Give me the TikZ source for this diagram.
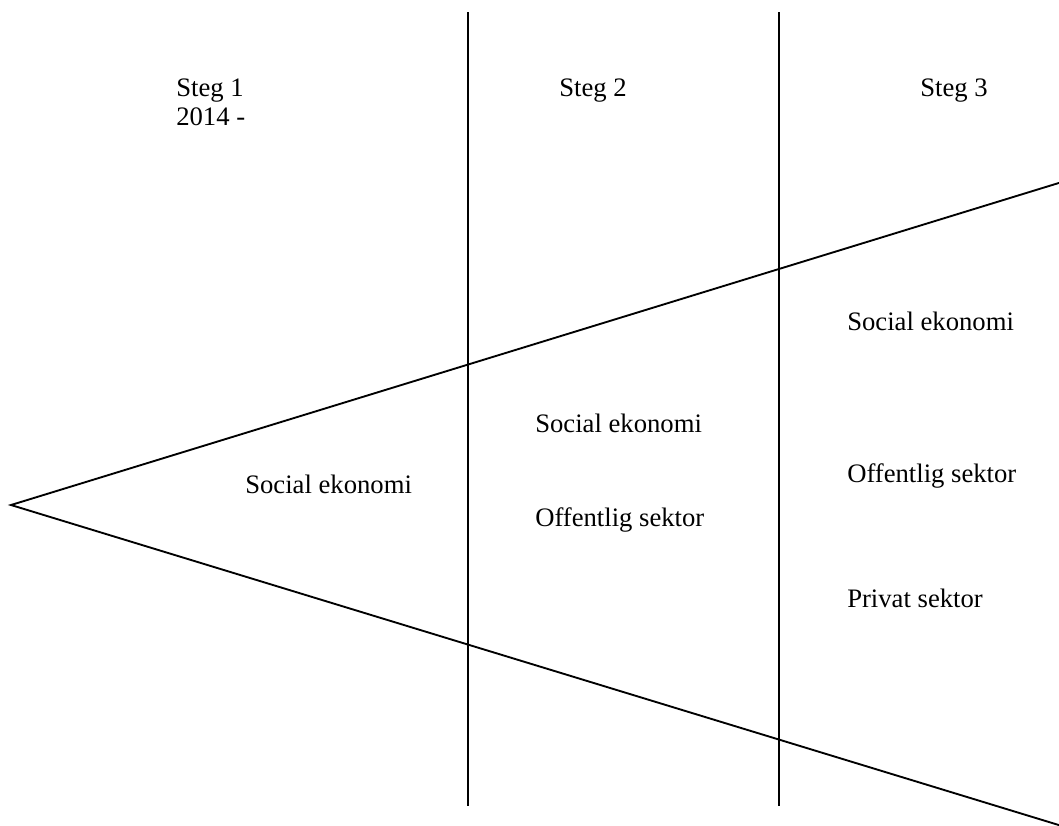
\documentclass[tikz,border=0pt]{standalone}
\usepackage{fontspec}
\setmainfont{Liberation Serif}
\begin{document}
\begin{tikzpicture}[x=0.75pt,y=-0.75pt,
  lbl/.style={anchor=base west,inner sep=0pt,font=\fontsize{20}{29}\selectfont},
  ln/.style={line width=1.4pt,black}]
\useasboundingbox (0,0) rectangle (1059,825);
% vertical dividers
\coordinate (v1t) at (468,12);
\coordinate (v1b) at (468,806);
\coordinate (v2t) at (779,12);
\coordinate (v2b) at (779,806);
\draw[ln] (v1t) -- (v1b);
\draw[ln] (v2t) -- (v2b);
% wedge
\coordinate (apex) at (11,505);
\coordinate (up) at (1062,182);
\coordinate (lo) at (1062,826);
\draw[ln] (up) -- (apex) -- (lo);
% labels
\node[lbl] (s1) at (176,96) {Steg 1};
\node[lbl] (y1) at (176,125) {2014 -};
\node[lbl] (s2) at (559,96) {Steg 2};
\node[lbl] (s3) at (920,96) {Steg 3};
\node[lbl] (a1) at (245,493) {Social ekonomi};
\node[lbl] (b1) at (535,432) {Social ekonomi};
\node[lbl] (b2) at (535,526) {Offentlig sektor};
\node[lbl] (c1) at (847,330) {Social ekonomi};
\node[lbl] (c2) at (847,482) {Offentlig sektor};
\node[lbl] (c3) at (847,607) {Privat sektor};
\end{tikzpicture}
\end{document}
